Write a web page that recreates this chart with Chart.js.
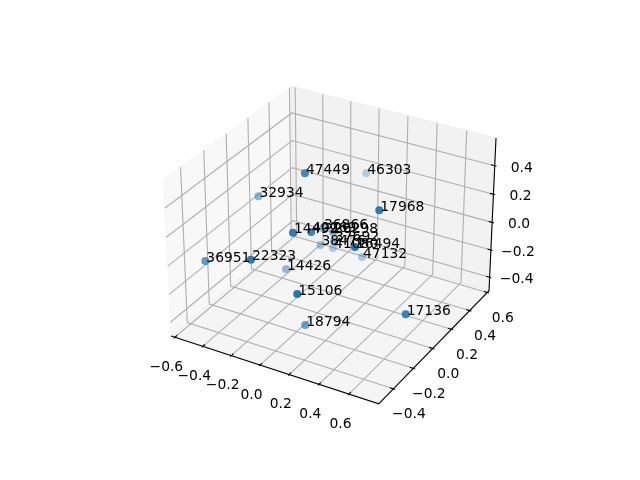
<!DOCTYPE html>
<html>
<head>
<meta charset="utf-8">
<style>
  html, body { margin: 0; padding: 0; background: #fff; }
  canvas { display: block; }
</style>
<script src="https://cdn.jsdelivr.net/npm/chart.js@4"></script>
</head>
<body>
<canvas id="myChart" width="640" height="480"></canvas>
<script>
// Data
const pointLabels = ["47449", "46303", "32934", "17968", "14499", "40269", "36866", "26298", "37692", "38476",
  "41080", "16494", "47132", "14426", "22323", "36951", "15106", "18794", "17136"];
const xValues = [-0.060, -0.040, -0.456, 0.429, 0.028, 0.088, -0.098, 0.021, -0.020, -0.115,
  -0.073, 0.389, 0.096, -0.231, -0.144, -0.505, 0.168, 0.075, 0.686];
const yValues = [-0.027, 0.552, 0.062, -0.011, -0.262, -0.175, 0.196, 0.128, 0.195, 0.195,
  0.262, -0.186, 0.315, 0.015, -0.417, -0.368, -0.418, -0.220, -0.120];
const zValues = [0.488, 0.158, 0.167, 0.364, 0.249, 0.218, -0.039, 0.009, -0.109, -0.166,
  -0.218, 0.210, -0.267, -0.261, 0.110, -0.040, -0.030, -0.414, -0.208];

const xTicks = [-0.6, -0.4, -0.2, 0.0, 0.2, 0.4, 0.6];
const yTicks = [-0.4, -0.2, 0.0, 0.2, 0.4, 0.6];
const zTicks = [-0.4, -0.2, 0.0, 0.2, 0.4];

const xLim = [-0.627, 0.795];
const yLim = [-0.543, 0.62];
const zLim = [-0.5, 0.591];

const FONT = '13.89px "DejaVu Sans"';
const DIST = 10;
const PX_PER_UNIT = 1997.8;
const CENTER = [333, 237.4];
const BOX = [1.1905, 1.1905, 0.8929];

// Camera axes for elev 30, azim -60
const U = [0.866025, 0.5, 0];
const V = [-0.25, 0.433013, 0.866025];
const W = [0.433013, -0.75, 0.5];

const dot = (a, b) => a[0] * b[0] + a[1] * b[1] + a[2] * b[2];

/**
 * Projects a data point to canvas position, depth is towards the camera.
 */
function project(x, y, z) {
  const p = [
    ((x - xLim[0]) / (xLim[1] - xLim[0]) - 0.5) * BOX[0],
    ((y - yLim[0]) / (yLim[1] - yLim[0]) - 0.5) * BOX[1],
    ((z - zLim[0]) / (zLim[1] - zLim[0]) - 0.5) * BOX[2],
  ];
  const depth = dot(W, p);
  const s = PX_PER_UNIT / (DIST - depth);
  return { x: CENTER[0] + dot(U, p) * s, y: CENTER[1] - dot(V, p) * s, depth };
}

const line = (pts, color, width) => ({
  data: pts.map((p) => project(p[0], p[1], p[2])),
  showLine: true,
  pointRadius: 0,
  borderColor: color,
  borderWidth: width,
  tension: 0,
  fill: false,
});

const pane = (pts, color) => ({
  data: pts.map((p) => project(p[0], p[1], p[2])),
  showLine: true,
  pointRadius: 0,
  borderWidth: 1,
  borderColor: color,
  backgroundColor: color,
  tension: 0,
  fill: "shape",
});

const [x0, x1] = xLim;
const [y0, y1] = yLim;
const [z0, z1] = zLim;
const datasets = [];

// Panes
datasets.push(pane([[x0, y0, z0], [x0, y1, z0], [x0, y1, z1], [x0, y0, z1], [x0, y0, z0]], "rgba(242,242,242,0.5)"));
datasets.push(pane([[x0, y1, z0], [x1, y1, z0], [x1, y1, z1], [x0, y1, z1], [x0, y1, z0]], "rgba(230,230,230,0.5)"));
datasets.push(pane([[x0, y0, z0], [x1, y0, z0], [x1, y1, z0], [x0, y1, z0], [x0, y0, z0]], "rgba(236,236,236,0.5)"));

// Grid lines
const GRID = "#b0b0b0";
xTicks.forEach((t) => datasets.push(line([[t, y0, z0], [t, y1, z0], [t, y1, z1]], GRID, 1.11)));
yTicks.forEach((t) => datasets.push(line([[x1, t, z0], [x0, t, z0], [x0, t, z1]], GRID, 1.11)));
zTicks.forEach((t) => datasets.push(line([[x0, y0, t], [x0, y1, t], [x1, y1, t]], GRID, 1.11)));

// Axis lines and tick marks
datasets.push(line([[x0, y0, z0], [x1, y0, z0], [x1, y1, z0], [x1, y1, z1]], "#000", 1.1));
const yStep = (y1 - y0) / 12;
const xStep = (x1 - x0) / 12;
xTicks.forEach((t) => datasets.push(line([[t, y0 - 0.1 * yStep, z0], [t, y0 + 0.2 * yStep, z0]], "#000", 1.11)));
yTicks.forEach((t) => datasets.push(line([[x1 + 0.1 * xStep, t, z0], [x1 - 0.2 * xStep, t, z0]], "#000", 1.11)));
zTicks.forEach((t) => datasets.push(line([[x1 + 0.1 * xStep, y1, t], [x1 - 0.2 * xStep, y1, t]], "#000", 1.11)));

// Scatter points, far ones first, fading with depth
const projected = pointLabels.map((label, i) => ({ label, ...project(xValues[i], yValues[i], zValues[i]) }));
const depths = projected.map((p) => p.depth);
const nearest = Math.max(...depths);
const farthest = Math.min(...depths);
projected.sort((a, b) => a.depth - b.depth);
projected.forEach((p) => {
  const alpha = 0.3 + (0.7 * (p.depth - farthest)) / (nearest - farthest);
  const color = `rgba(31,119,180,${alpha.toFixed(3)})`;
  datasets.push({
    data: [{ x: p.x, y: p.y }],
    pointRadius: 4,
    borderWidth: 0,
    backgroundColor: color,
    borderColor: color,
  });
});

// Chart.js paints the first dataset last, so flip to keep panes at the back
datasets.reverse();

const fmt = (t) => t.toFixed(1).replace("-", "\u2212");

// Tick labels and point labels are drawn on top of the marks
const textPlugin = {
  id: "textPlugin",
  afterDatasetsDraw(chart) {
    const { ctx, scales } = chart;
    const px = (p) => [scales.x.getPixelForValue(p.x), scales.y.getPixelForValue(p.y)];
    ctx.save();
    ctx.fillStyle = "#000";
    ctx.font = FONT;

    ctx.textAlign = "center";
    ctx.textBaseline = "middle";
    const tickLabel = (t, pos, dx, dy) => {
      const [a, b] = px(pos);
      ctx.fillText(fmt(t), a + dx, b + dy);
    };
    xTicks.forEach((t) => tickLabel(t, project(t, y0, z0), -8.5, 30));
    yTicks.forEach((t) => tickLabel(t, project(x1, t, z0), 15.5, 26));
    zTicks.forEach((t) => tickLabel(t, project(x1, y1, t), 27, 2.5));

    ctx.textAlign = "left";
    ctx.textBaseline = "alphabetic";
    projected.forEach((p) => {
      const [a, b] = px(p);
      ctx.fillText(p.label, a + 1, b + 0.5);
    });
    ctx.restore();
  },
};

new Chart(document.getElementById("myChart"), {
  type: "scatter",
  data: { datasets },
  options: {
    responsive: false,
    animation: false,
    layout: { padding: 0, autoPadding: false },
    plugins: { legend: { display: false }, tooltip: { enabled: false } },
    scales: {
      x: { type: "linear", min: 0, max: 640, display: false },
      y: { type: "linear", min: 0, max: 480, reverse: true, display: false },
    },
  },
  plugins: [textPlugin],
});
</script>
</body>
</html>
